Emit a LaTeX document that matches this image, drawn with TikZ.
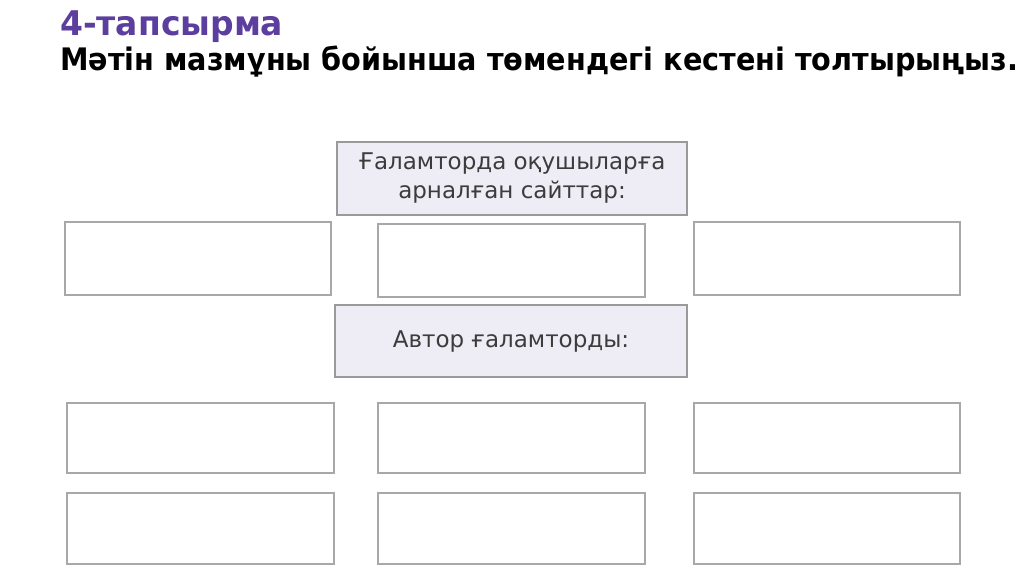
\documentclass[tikz,border=0pt]{standalone}
\usepackage{fontspec}
\setmainfont{DejaVu Sans}
\definecolor{titlepurple}{HTML}{5B3E9E}
\definecolor{boxline}{HTML}{A8A8A8}
\definecolor{headfill}{HTML}{EEECF4}
\definecolor{headline}{HTML}{9A9A9A}
\definecolor{textgray}{HTML}{3C3C3C}
\begin{document}
\begin{tikzpicture}[x=1pt,y=-1pt,
  emptybox/.style={draw=boxline,line width=1.6pt,fill=white},
  headbox/.style={draw=headline,line width=1.4pt,fill=headfill},
  boxtext/.style={text=textgray,font=\fontsize{23}{29}\selectfont,align=center,inner sep=0pt}]
\useasboundingbox[fill=white] (0,0) rectangle (1024,579);
% title
\node[anchor=base west,inner sep=0pt,text=titlepurple,font=\fontsize{34}{36}\bfseries\selectfont] (title) at (60,35) {\resizebox{223pt}{\height}{4-тапсырма}};
\node[anchor=base west,inner sep=0pt,text=black,font=\fontsize{31}{34}\bfseries\selectfont] (subtitle) at (60,70) {\resizebox{958pt}{\height}{Мәтін мазмұны бойынша төмендегі кестені толтырыңыз.}};
% header 1
\draw[headbox] (337,142) rectangle (687,215);
\node[boxtext] (h1) at (512,178) {Ғаламторда оқушыларға\\арналған сайттар:};
% row 1
\draw[emptybox] (65,222) rectangle (331,295);
\draw[emptybox] (378,224) rectangle (645,297);
\draw[emptybox] (694,222) rectangle (960,295);
% header 2
\draw[headbox] (335,305) rectangle (687,377);
\node[boxtext] (h2) at (511,341) {Автор ғаламторды:};
% row 3
\draw[emptybox] (67,403) rectangle (334,473);
\draw[emptybox] (378,403) rectangle (645,473);
\draw[emptybox] (694,403) rectangle (960,473);
% row 4
\draw[emptybox] (67,493) rectangle (334,564);
\draw[emptybox] (378,493) rectangle (645,564);
\draw[emptybox] (694,493) rectangle (960,564);
\end{tikzpicture}
\end{document}
